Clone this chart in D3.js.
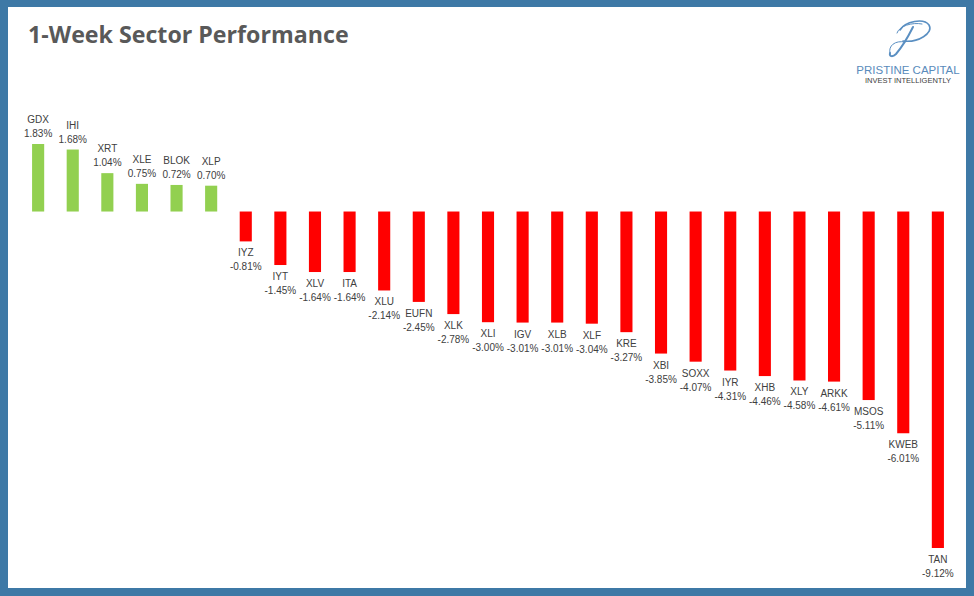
<!DOCTYPE html>
<html><head><meta charset="utf-8">
<script src="https://cdn.jsdelivr.net/npm/d3@7"></script>
<style>
html,body{margin:0;padding:0;background:#fff;}
svg{display:block;}
</style></head>
<body>
<svg id="chart" width="974" height="596"></svg>
<script>
const tickers = ["GDX","IHI","XRT","XLE","BLOK","XLP","IYZ","IYT","XLV","ITA","XLU","EUFN","XLK","XLI","IGV","XLB","XLF","KRE","XBI","SOXX","IYR","XHB","XLY","ARKK","MSOS","KWEB","TAN"];
const returns = [1.83,1.68,1.04,0.75,0.72,0.70,-0.81,-1.45,-1.64,-1.64,-2.14,-2.45,-2.78,-3.00,-3.01,-3.01,-3.04,-3.27,-3.85,-4.07,-4.31,-4.46,-4.58,-4.61,-5.11,-6.01,-9.12];

const data = tickers.map((t,i)=>({t, v: returns[i]}));
const svg = d3.select("#chart");
const W = 974, H = 596;

// frame
svg.append("rect").attr("x",0).attr("y",0).attr("width",W).attr("height",H).attr("fill","#3e79a6");
svg.append("rect").attr("x",8).attr("y",7).attr("width",958).attr("height",581).attr("fill","#ffffff");

// title
svg.append("text").attr("x",28).attr("y",43)
  .attr("font-family","'Open Sans', sans-serif").attr("font-weight","bold")
  .attr("font-size",23.2).attr("fill","#595959").text("1-Week Sector Performance");

// logo
const logo = svg.append("g").attr("fill","none").attr("stroke","#5a8fc2").attr("stroke-linecap","round");
// script P bowl
logo.append("path").attr("stroke-width",1.6)
  .attr("d","M900,30 C905,21 924,18 929,25 C934,33 918,43 903,41");
logo.append("path").attr("stroke-width",1)
  .attr("d","M897,33 C899,26 912,22 922,24");
// stem
logo.append("path").attr("stroke-width",2)
  .attr("d","M913,27 C908,37 902,47 896,54 C893,57 889,57 890,53");
logo.append("path").attr("stroke-width",1)
  .attr("d","M890,53 C888,46 895,40 905,42");
svg.append("text").attr("x",908).attr("y",74).attr("text-anchor","middle")
  .attr("font-family","'Liberation Sans', sans-serif").attr("font-size",11.5)
  .attr("fill","#5a8bbb").text("PRISTINE CAPITAL");
svg.append("text").attr("x",908).attr("y",83).attr("text-anchor","middle")
  .attr("font-family","'Liberation Sans', sans-serif").attr("font-size",7.5)
  .attr("fill","#404040").text("INVEST INTELLIGENTLY");

// scales
const x = d3.scaleBand().domain(tickers).range([21, 955]).paddingInner(0.65).paddingOuter(0.32);
const y = d3.scaleLinear().domain([-9.12, 1.83]).range([548, 144]);

const g = svg.append("g");
g.selectAll("rect.bar").data(data).join("rect").attr("class","bar")
  .attr("x", d=>x(d.t)).attr("width", x.bandwidth())
  .attr("y", d=>Math.min(y(d.v), y(0)))
  .attr("height", d=>Math.abs(y(d.v)-y(0)))
  .attr("fill", d=> d.v>=0 ? "#92d050" : "#ff0000");

const lab = g.selectAll("g.lab").data(data).join("g").attr("class","lab")
  .attr("transform", d=>`translate(${x(d.t)+x.bandwidth()/2},0)`)
  .attr("font-family","'Liberation Sans', sans-serif").attr("font-size",10)
  .attr("fill","#404040").attr("text-anchor","middle");
lab.append("text").attr("y", d=> d.v>=0 ? y(d.v)-21 : y(d.v)+15).text(d=>d.t);
lab.append("text").attr("y", d=> d.v>=0 ? y(d.v)-7 : y(d.v)+29).text(d=>d.v.toFixed(2)+"%");
</script>
</body></html>
